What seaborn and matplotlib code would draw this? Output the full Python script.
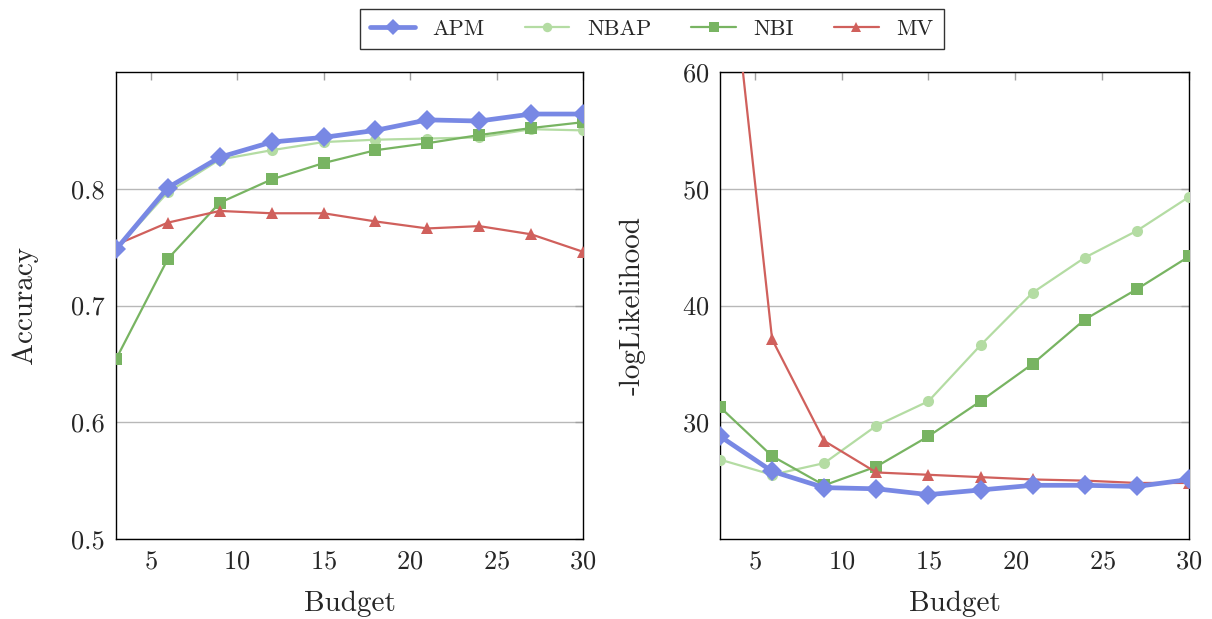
import matplotlib
matplotlib.use("Agg")
import matplotlib.pyplot as plt
import seaborn as sns
import pandas as pd

budget = [3, 6, 9, 12, 15, 18, 21, 24, 27, 30]

acc_apm = [0.748, 0.801, 0.827, 0.840, 0.844, 0.850, 0.859, 0.858, 0.864, 0.864]
acc_nbap = [0.748, 0.797, 0.825, 0.833, 0.840, 0.842, 0.843, 0.844, 0.851, 0.850]
acc_nbi = [0.654, 0.740, 0.788, 0.808, 0.822, 0.833, 0.839, 0.846, 0.852, 0.857]
acc_mv = [0.752, 0.771, 0.781, 0.779, 0.779, 0.772, 0.766, 0.768, 0.761, 0.746]

nll_apm = [28.8, 25.8, 24.4, 24.3, 23.8, 24.2, 24.6, 24.6, 24.5, 25.1]
nll_nbap = [26.8, 25.5, 26.5, 29.7, 31.8, 36.6, 41.1, 44.1, 46.4, 49.3]
nll_nbi = [31.3, 27.1, 24.6, 26.2, 28.8, 31.8, 35.0, 38.8, 41.4, 44.2]
nll_mv = [78.0, 37.1, 28.4, 25.7, 25.5, 25.3, 25.1, 25.0, 24.8, 24.8]

methods = ["APM", "NBAP", "NBI", "MV"]

sns.set_style("white")
plt.rcParams["font.family"] = ["cmr10", "DejaVu Serif"]
plt.rcParams["mathtext.fontset"] = "cm"
plt.rcParams["axes.formatter.use_mathtext"] = True

styles = {
    "APM": dict(color="#7888e4", marker="D", lw=3.4, ms=10),
    "NBAP": dict(color="#b4dca3", marker="o", lw=1.6, ms=8),
    "NBI": dict(color="#78b462", marker="s", lw=1.6, ms=8),
    "MV": dict(color="#d0605c", marker="^", lw=1.6, ms=8),
}

acc = pd.DataFrame({"Budget": budget * 4,
                    "value": acc_apm + acc_nbap + acc_nbi + acc_mv,
                    "method": sum([[m] * len(budget) for m in methods], [])})
nll = pd.DataFrame({"Budget": budget * 4,
                    "value": nll_apm + nll_nbap + nll_nbi + nll_mv,
                    "method": sum([[m] * len(budget) for m in methods], [])})

fig = plt.figure(figsize=(12.12, 6.19), dpi=100)
ax1 = fig.add_axes([116 / 1212, 1 - 539 / 619, (583 - 116) / 1212, (539 - 72) / 619])
ax2 = fig.add_axes([720 / 1212, 1 - 539 / 619, (1189 - 720) / 1212, (539 - 72) / 619])

for ax, df in [(ax1, acc), (ax2, nll)]:
    for m in methods:
        st = styles[m]
        d = df[df["method"] == m]
        sns.lineplot(data=d, x="Budget", y="value", ax=ax, color=st["color"],
                     marker=st["marker"], markersize=st["ms"], linewidth=st["lw"],
                     markeredgewidth=0, label=m, legend=False,
                     zorder=5 if m == "APM" else 3, clip_on=True)
    ax.set_xlim(3, 30)
    ax.set_xticks([5, 10, 15, 20, 25, 30])
    ax.grid(axis="y", color="#b8b8b8", lw=1.0)
    ax.set_axisbelow(True)
    ax.tick_params(direction="in", top=True, right=True, length=6, width=1.0,
                   color="#a0a0a0", labelsize=19, pad=8)
    for s in ax.spines.values():
        s.set_color("black")
        s.set_linewidth(1.0)
    ax.set_xlabel("Budget", fontsize=21, labelpad=12)

ax1.set_ylim(0.5, 0.9)
ax1.set_yticks([0.5, 0.6, 0.7, 0.8])
ax1.set_yticklabels(["0.5", "0.6", "0.7", "0.8"])
ax1.set_ylabel("Accuracy", fontsize=21, labelpad=24)

ax2.set_ylim(20, 60)
ax2.set_yticks([30, 40, 50, 60])
ax2.set_ylabel("-logLikelihood", fontsize=21, labelpad=26)

handles, labels = ax1.get_legend_handles_labels()
leg = fig.legend(handles, labels, loc="center", bbox_to_anchor=(652 / 1212, 1 - 29 / 619),
                 ncol=4, frameon=True, fontsize=16, handlelength=2.0,
                 columnspacing=1.8, handletextpad=0.8, borderpad=0.45,
                 fancybox=False, edgecolor="black")
leg.get_frame().set_linewidth(1.0)
for h in leg.legend_handles:
    h.set_markersize(h.get_markersize() * 0.85)

fig.savefig("out.png", dpi=100)
